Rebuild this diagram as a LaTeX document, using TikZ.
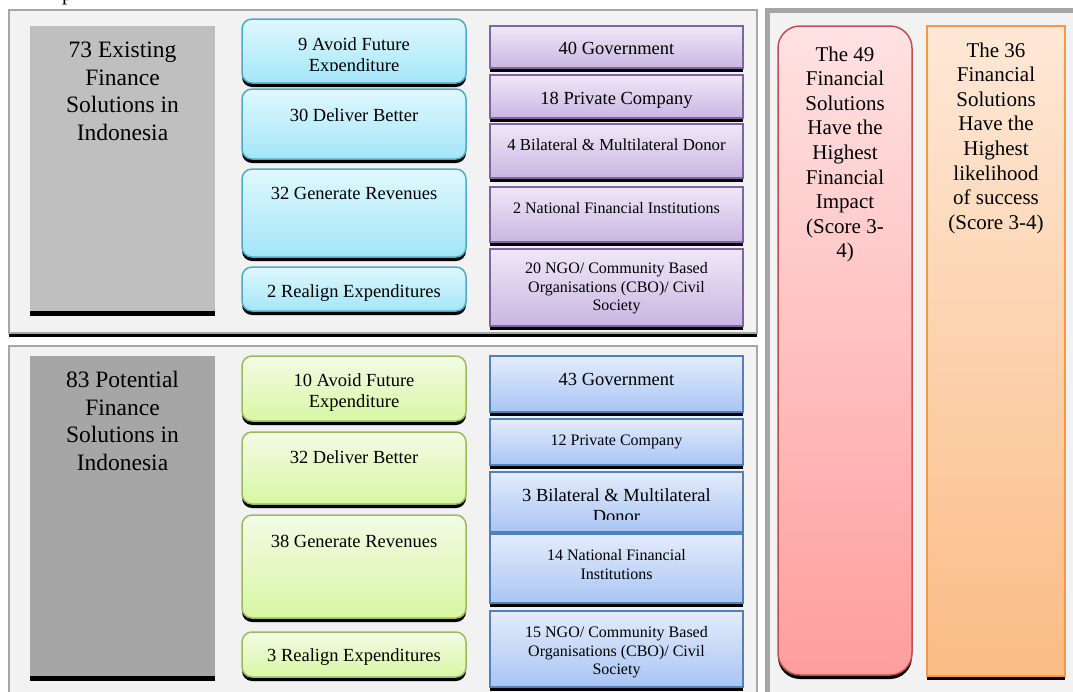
\documentclass[tikz,border=0pt]{standalone}
\usepackage{fontspec}
\setmainfont{Liberation Serif}
\usetikzlibrary{shadows}
\definecolor{panelgray}{HTML}{F2F2F2}
\definecolor{panelline}{HTML}{A6A6A6}
\definecolor{greyA}{HTML}{BFBFBF}
\definecolor{greyB}{HTML}{A6A6A6}
\definecolor{cyanline}{HTML}{4BACC6}
\definecolor{cyantop}{HTML}{E0F8FE}
\definecolor{cyanbot}{HTML}{A3E6F7}
\definecolor{greenline}{HTML}{9BBB59}
\definecolor{greentop}{HTML}{F3FBE6}
\definecolor{greenbot}{HTML}{D8F7A3}
\definecolor{purpleline}{HTML}{8064A2}
\definecolor{purpletop}{HTML}{EFE8F7}
\definecolor{purplebot}{HTML}{C9B6E2}
\definecolor{blueline}{HTML}{4F81BD}
\definecolor{bluetop}{HTML}{E4ECFB}
\definecolor{bluebot}{HTML}{A9C5F5}
\definecolor{pinkline}{HTML}{C0504D}
\definecolor{pinktop}{HTML}{FFE2E2}
\definecolor{pinkbot}{HTML}{FF9D9D}
\definecolor{orangeline}{HTML}{F79646}
\definecolor{orangetop}{HTML}{FEE8D6}
\definecolor{orangebot}{HTML}{FBBC85}
\begin{document}
\begin{tikzpicture}[x=1pt,y=-1pt,
  blackshadow/.style={drop shadow={shadow xshift=0pt,shadow yshift=-#1,fill=black,opacity=1}},
  shell/.style={anchor=north west,inner sep=0pt,outer sep=0pt},
  panelbg/.style={shell,fill=panelgray,draw=panelline,line width=1.5pt},
  panelR/.style={shell,fill=panelgray,draw=panelline,line width=5pt},
  greybox/.style={shell,draw=none,blackshadow=5pt},
  rbox/.style={shell,rounded corners=10pt,line width=1.5pt,blackshadow=4pt},
  sbox/.style={shell,line width=1.5pt,blackshadow=4pt},
  cyanbox/.style={rbox,draw=cyanline,top color=cyantop,bottom color=cyanbot},
  greenbox/.style={rbox,draw=greenline,top color=greentop,bottom color=greenbot},
  purplebox/.style={sbox,draw=purpleline,top color=purpletop,bottom color=purplebot},
  bluebox/.style={sbox,draw=blueline,top color=bluetop,bottom color=bluebot},
  pinkbox/.style={rbox,rounded corners=22pt,draw=pinkline,top color=pinktop,bottom color=pinkbot},
  orangebox/.style={sbox,draw=orangeline,top color=orangetop,bottom color=orangebot},
  txt/.style={inner sep=0pt,align=center,anchor=base,text=black},
  tA/.style={txt,font=\fontsize{18.5}{21.5}\selectfont},
  tS/.style={txt,font=\fontsize{16}{18.5}\selectfont},
  tM/.style={txt,font=\fontsize{16.8}{19.5}\selectfont},
  tBig/.style={txt,font=\fontsize{23.5}{27.6}\selectfont},
  tR/.style={txt,font=\fontsize{21}{24.6}\selectfont}
]
\useasboundingbox (0,0) rectangle (1073,691);
\fill[white] (0,0) rectangle (1073,691);

% stray caption glyph cut at top
\node[anchor=base west,inner sep=0pt,font=\fontsize{21}{24}\selectfont] (cap) at (62,0.5) {p};

% panels
\node[panelbg,blackshadow=4pt,minimum width=748pt,minimum height=323pt] (p1) at (9,10) {};
\node[panelbg,minimum width=748pt,minimum height=360pt] (p2) at (9,346) {};
\node[panelR,minimum width=320pt,minimum height=700pt] (p3) at (767.5,10.5) {};

% grey title boxes (text anchored at baseline of last line)
\node[greybox,fill=greyA,minimum width=185pt,minimum height=285pt] (g1) at (30,26) {};
\node[tBig] (g1t) at (122.5,140.3) {73 Existing\\Finance\\Solutions in\\Indonesia};
\node[greybox,fill=greyB,minimum width=185pt,minimum height=320pt] (g2) at (30,356) {};
\node[tBig] (g2t) at (122.5,470.3) {83 Potential\\Finance\\Solutions in\\Indonesia};

% cyan boxes
\node[cyanbox,minimum width=224pt,minimum height=64pt] (c1) at (242,19) {};
\begin{scope}
  \clip (242,19) rectangle (466,70.5);
  \node[tA] (c1t) at (354,71.5) {9 Avoid Future\\Expenditure};
\end{scope}
\node[cyanbox,minimum width=224pt,minimum height=70pt] (c2) at (242,89) {};
\node[tA] (c2t) at (354,121) {30 Deliver Better};
\node[cyanbox,minimum width=224pt,minimum height=88pt] (c3) at (242,169) {};
\node[tA] (c3t) at (354,199) {32 Generate Revenues};
\node[cyanbox,minimum width=224pt,minimum height=44pt] (c4) at (242,267) {};
\node[tA] (c4t) at (354,297) {2 Realign Expenditures};

% green boxes
\node[greenbox,minimum width=224pt,minimum height=65pt] (e1) at (242,356) {};
\node[tA] (e1t) at (354,407.5) {10 Avoid Future\\Expenditure};
\node[greenbox,minimum width=224pt,minimum height=72pt] (e2) at (242,432) {};
\node[tA] (e2t) at (354,463) {32 Deliver Better};
\node[greenbox,minimum width=224pt,minimum height=103pt] (e3) at (242,515) {};
\node[tA] (e3t) at (354,547) {38 Generate Revenues};
\node[greenbox,minimum width=224pt,minimum height=45pt] (e4) at (242,632) {};
\node[tA] (e4t) at (354,661) {3 Realign Expenditures};

% purple boxes
\node[purplebox,minimum width=253pt,minimum height=42pt] (u1) at (490,26) {};
\node[tA] (u1t) at (616.5,54) {40 Government};
\node[purplebox,minimum width=253pt,minimum height=43pt] (u2) at (490,75) {};
\node[tA] (u2t) at (616.5,104) {18 Private Company};
\node[purplebox,minimum width=253pt,minimum height=54pt] (u3) at (490,124) {};
\node[tM] (u3t) at (616.5,150.5) {4 Bilateral \& Multilateral Donor};
\node[purplebox,minimum width=253pt,minimum height=55pt] (u4) at (490,187) {};
\node[tS] (u4t) at (616.5,213.5) {2 National Financial Institutions};
\node[purplebox,minimum width=253pt,minimum height=77pt] (u5) at (490,249) {};
\node[tS] (u5t) at (616.5,310.5) {20 NGO/ Community Based\\Organisations (CBO)/ Civil\\Society};

% blue boxes
\node[bluebox,minimum width=253pt,minimum height=56pt] (b1) at (490,356) {};
\node[tA] (b1t) at (616.5,385) {43 Government};
\node[bluebox,minimum width=253pt,minimum height=46pt] (b2) at (490,419) {};
\node[tS] (b2t) at (616.5,445.5) {12 Private Company};
\node[bluebox,minimum width=253pt,minimum height=60pt] (b3) at (490,472) {};
\begin{scope}
  \clip (490,472) rectangle (743,519.5);
  \node[tA] (b3t) at (616.5,522.5) {3 Bilateral \& Multilateral\\Donor};
\end{scope}
\node[bluebox,minimum width=253pt,minimum height=69pt] (b4) at (490,534) {};
\node[tS] (b4t) at (616.5,579) {14 National Financial\\Institutions};
\node[bluebox,minimum width=253pt,minimum height=76pt] (b5) at (490,611) {};
\node[tS] (b5t) at (616.5,674.5) {15 NGO/ Community Based\\Organisations (CBO)/ Civil\\Society};

% right panel boxes
\node[pinkbox,minimum width=134pt,minimum height=649pt] (k1) at (778,26) {};
\node[tR] (k1t) at (845,257.8) {The 49\\Financial\\Solutions\\Have the\\Highest\\Financial\\Impact\\(Score 3-\\4)};
\node[orangebox,minimum width=138pt,minimum height=650pt] (o1) at (927,26) {};
\node[tR] (o1t) at (996,229.2) {The 36\\Financial\\Solutions\\Have the\\Highest\\likelihood\\of success\\(Score 3-4)};
\end{tikzpicture}
\end{document}
